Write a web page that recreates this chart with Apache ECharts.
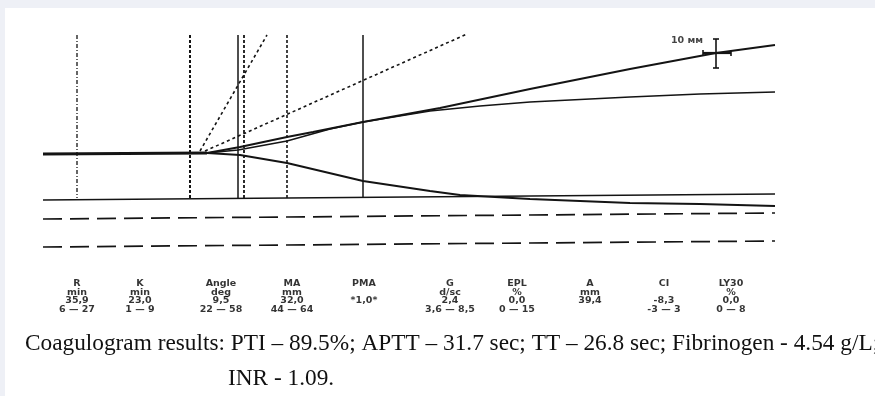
<!DOCTYPE html>
<html>
<head>
<meta charset="utf-8">
<script src="https://cdn.jsdelivr.net/npm/echarts@6/dist/echarts.min.js"></script>
<style>
  html, body { margin: 0; padding: 0; background: #eef0f6; }
  #chart { width: 875px; height: 396px; }
</style>
</head>
<body>
<div id="chart"></div>
<script>
// trace readings, in chart units along the paper (x right, y down)
const baseTrace = [[43, 154], [207, 153]];
const upperOuter = [[207, 153], [240, 147], [287, 137], [313, 132], [363, 122], [440, 108], [530, 89], [630, 69], [716, 53], [775, 45]];
const upperInner = [[207, 153], [238, 150], [287, 141], [330, 129], [363, 122], [430, 111], [480, 106], [530, 102], [630, 97], [700, 94], [775, 92]];
const lowerTrace = [[207, 153], [240, 155], [287, 163], [363, 181], [430, 191], [460, 195], [530, 199], [630, 203], [700, 204], [775, 206]];
const baseLine = [[43, 200], [775, 194]];
const dashUpper = [[43, 219], [775, 213]];
const dashLower = [[43, 247], [775, 241]];
const angleSteep = [[200, 151], [267, 35]];
const angleShallow = [[205, 151], [467, 34]];

// time markers (R, K, angle, MA ...)
const markerX = [77, 190, 238, 244, 287, 363];
const markerTop = 35;
const markerBottom = 198;

// parameter table
const paramNames = ['R', 'K', 'Angle', 'MA', 'PMA', 'G', 'EPL', 'A', 'CI', 'LY30'];
const paramUnits = ['min', 'min', 'deg', 'mm', '', 'd/sc', '%', 'mm', '', '%'];
const paramValues = ['35,9', '23,0', '9,5', '32,0', '*1,0*', '2,4', '0,0', '39,4', '-8,3', '0,0'];
const paramRanges = ['6 — 27', '1 — 9', '22 — 58', '44 — 64', '', '3,6 — 8,5', '0 — 15', '', '-3 — 3', '0 — 8'];

const footLine1 = 'Coagulogram results: PTI – 89.5%; APTT – 31.7 sec; TT – 26.8 sec; Fibrinogen - 4.54 g/L;';
const footLine2 = 'INR - 1.09.';

const chart = echarts.init(document.getElementById('chart'));

const ink = '#141414';
const colX = [77, 140, 221, 292, 364, 450, 517, 590, 664, 731];

function trace(data, width, type) {
  return {
    type: 'line',
    data,
    symbol: 'none',
    silent: true,
    animation: false,
    lineStyle: { color: ink, width, type: type || 'solid' },
  };
}

const markerStyles = [
  { width: 1.3, type: [4, 2, 1, 2] },
  { width: 2, type: [3, 2] },
  { width: 1.5, type: 'solid' },
  { width: 1.8, type: [3, 2] },
  { width: 1.6, type: [3, 2] },
  { width: 1.5, type: 'solid' },
];

const series = [
  trace(baseTrace, 2.8),
  trace(upperOuter, 1.9),
  trace(upperInner, 1.7),
  trace(lowerTrace, 1.9),
  trace(baseLine, 1.5),
  trace(dashUpper, 1.7, [19, 8]),
  trace(dashLower, 1.7, [19, 8]),
  trace(angleSteep, 1.6, [3, 3]),
  trace(angleShallow, 1.6, [3, 3]),
];

markerX.forEach((x, i) => {
  series.push(trace([[x, markerTop], [x, markerBottom]], markerStyles[i].width, markerStyles[i].type));
});

// 10 mm scale cross
series.push({
  type: 'line', silent: true, animation: false,
  data: [[716, 39], [716, 68]],
  symbol: 'rect', symbolSize: [6, 1.6],
  itemStyle: { color: ink },
  lineStyle: { color: ink, width: 1.6 },
});
series.push({
  type: 'line', silent: true, animation: false,
  data: [[703, 53], [731, 53]],
  symbol: 'rect', symbolSize: [1.6, 6],
  itemStyle: { color: ink },
  lineStyle: { color: ink, width: 2.2 },
});
series.push({
  type: 'scatter', silent: true, animation: false,
  data: [[687, 41]],
  symbolSize: 0,
  label: {
    show: true, position: 'inside', formatter: '10 мм',
    color: ink, fontFamily: 'DejaVu Sans', fontSize: 9.5, fontWeight: 'bold',
  },
});

// parameter labels
series.push({
  type: 'scatter', silent: true, animation: false,
  symbolSize: 0,
  data: paramNames.map((n, i) => ({
    value: [colX[i], 279.5],
    label: {
      formatter: [n, paramUnits[i] || ' ', paramValues[i], paramRanges[i] || ' '].join('\n'),
    },
  })),
  label: {
    show: true, position: 'bottom', distance: 0,
    color: '#000', fontFamily: 'DejaVu Sans', fontSize: 9.5, fontWeight: 'bold',
    lineHeight: 8.5, align: 'center',
  },
});

chart.setOption({
  backgroundColor: '#eef0f6',
  animation: false,
  grid: { left: 0, right: 0, top: 0, bottom: 0 },
  xAxis: { type: 'value', min: 0, max: 875, show: false },
  yAxis: { type: 'value', min: 0, max: 396, inverse: true, show: false },
  graphic: [
    { type: 'rect', z: -10, shape: { x: 5, y: 8, width: 870, height: 388 }, style: { fill: '#ffffff' } },
    { type: 'text', x: 25, y: 344, style: { text: footLine1, font: '23.3px "Liberation Serif"', fill: '#111', textVerticalAlign: 'middle' } },
    { type: 'text', x: 228, y: 379, style: { text: footLine2, font: '23.3px "Liberation Serif"', fill: '#111', textVerticalAlign: 'middle' } },
  ],
  series,
});
</script>
</body>
</html>
